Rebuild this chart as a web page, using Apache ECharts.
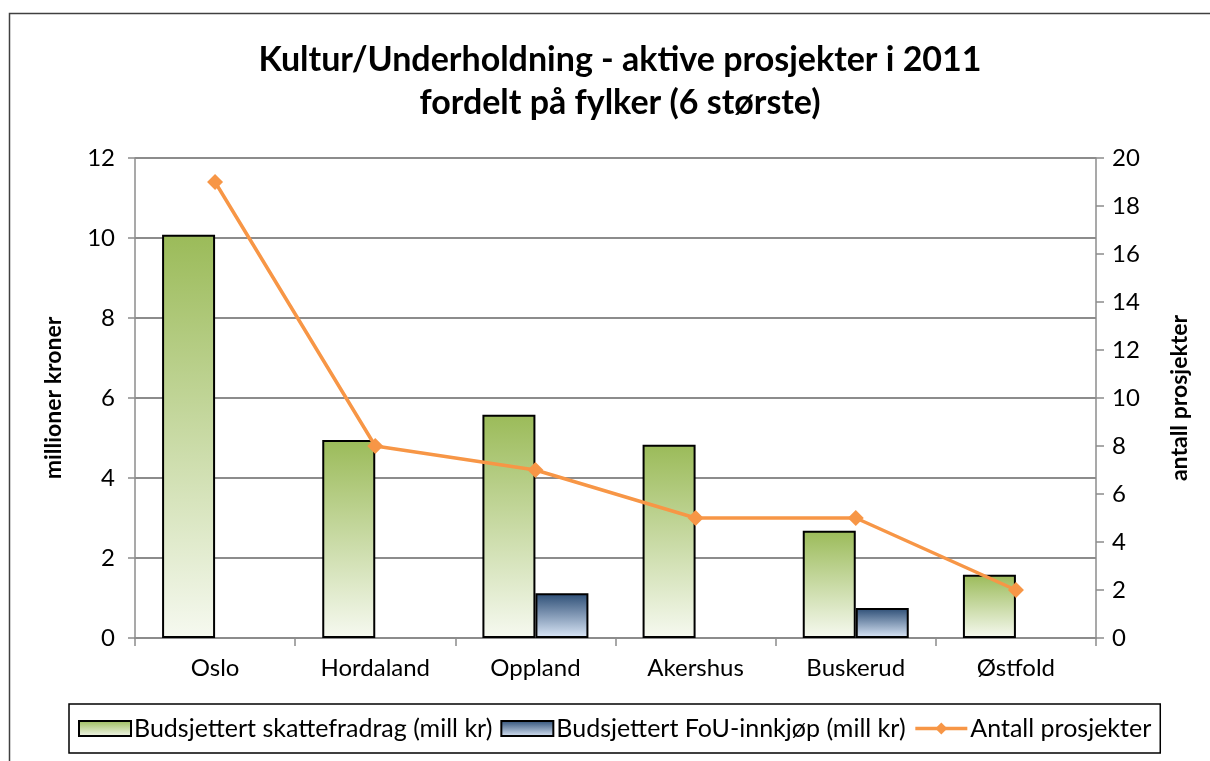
<!DOCTYPE html>
<html>
<head>
<meta charset="utf-8">
<script src="https://cdn.jsdelivr.net/npm/echarts@6/dist/echarts.min.js"></script>
<style>
  html, body { margin: 0; padding: 0; background: #fff; }
  #chart { width: 1210px; height: 761px; }
</style>
</head>
<body>
<div id="chart"></div>
<script>
// Data
const counties = ['Oslo', 'Hordaland', 'Oppland', 'Akershus', 'Buskerud', 'Østfold'];
const taxDeduction = [10.08, 4.95, 5.58, 4.83, 2.68, 1.58];   // mill kr
const rndPurchase = [null, null, 1.12, null, 0.75, null];      // mill kr
const projectCount = [19, 8, 7, 5, 5, 2];
const leftTicks = [0, 12, 2];   // min, max, interval
const rightTicks = [0, 20, 2];

const FONT = 'Lato, "Open Sans", sans-serif';
const ORANGE = '#f79646';

const chart = echarts.init(document.getElementById('chart'));

const greenFill = new echarts.graphic.LinearGradient(0, 0, 0, 1, [
    { offset: 0, color: '#9bbb59' },
    { offset: 1, color: '#f6f9f0' }
]);
const blueFill = new echarts.graphic.LinearGradient(0, 0, 0, 1, [
    { offset: 0, color: '#2c4d75' },
    { offset: 1, color: '#dce8f8' }
]);

const option = {
    backgroundColor: '#fff',
    animation: false,
    textStyle: { fontFamily: FONT },
    graphic: [{
        type: 'rect',
        shape: { x: 9.5, y: 13.5, width: 1240, height: 800 },
        style: { fill: 'none', stroke: '#404040', lineWidth: 1.5 },
        silent: true
    }],
    title: {
        text: 'Kultur/Underholdning - aktive prosjekter i 2011\nfordelt på fylker (6 største)',
        left: 615,
        textAlign: 'center',
        top: 34,
        textStyle: {
            fontFamily: FONT,
            fontSize: 34,
            fontWeight: 'bold',
            color: '#000',
            lineHeight: 43
        }
    },
    legend: {
        left: 69,
        top: 704,
        padding: [12, 9, 12, 9],
        itemGap: 8,
        itemWidth: 52,
        itemHeight: 15,
        borderColor: '#000',
        borderWidth: 1.5,
        textStyle: { fontFamily: FONT, fontSize: 25, color: '#000', padding: [0, 0, 0, -2] },
        data: [
            { name: 'Budsjettert skattefradrag (mill kr)', icon: 'rect' },
            { name: 'Budsjettert FoU-innkjøp (mill kr)', icon: 'rect' },
            { name: 'Antall prosjekter', lineStyle: { width: 3.5, color: ORANGE } }
        ]
    },
    grid: {
        left: 135,
        right: 114,
        top: 158,
        bottom: 123
    },
    xAxis: {
        type: 'category',
        data: counties,
        axisLine: { lineStyle: { color: '#8c8c8c', width: 2 } },
        axisTick: { show: true, length: 8, lineStyle: { color: '#8c8c8c', width: 1.5 } },
        axisLabel: { fontSize: 24, color: '#000', margin: 18, fontFamily: FONT }
    },
    yAxis: [{
        type: 'value',
        min: leftTicks[0],
        max: leftTicks[1],
        interval: leftTicks[2],
        name: 'millioner kroner',
        nameLocation: 'middle',
        nameGap: 70,
        nameTextStyle: { fontSize: 23, fontWeight: 'bold', color: '#000', fontFamily: FONT },
        axisLine: { show: true, lineStyle: { color: '#8c8c8c', width: 1.5 } },
        axisTick: { show: true, length: 7, lineStyle: { color: '#8c8c8c', width: 1.5 } },
        axisLabel: { fontSize: 24, color: '#000', margin: 20, fontFamily: FONT },
        splitLine: { lineStyle: { color: '#8c8c8c', width: 2 } }
    }, {
        type: 'value',
        position: 'right',
        min: rightTicks[0],
        max: rightTicks[1],
        interval: rightTicks[2],
        name: 'antall prosjekter',
        nameLocation: 'middle',
        nameGap: 72,
        nameRotate: 90,
        nameTextStyle: { fontSize: 23, fontWeight: 'bold', color: '#000', fontFamily: FONT },
        axisLine: { show: true, lineStyle: { color: '#8c8c8c', width: 1.5 } },
        axisTick: { show: true, length: 8, lineStyle: { color: '#8c8c8c', width: 1.5 } },
        axisLabel: { fontSize: 24, color: '#000', margin: 16, fontFamily: FONT },
        splitLine: { show: false }
    }],
    series: [{
        name: 'Budsjettert skattefradrag (mill kr)',
        type: 'bar',
        data: taxDeduction,
        barWidth: 53,
        barGap: '0%',
        itemStyle: { color: greenFill, borderColor: '#000', borderWidth: 2 }
    }, {
        name: 'Budsjettert FoU-innkjøp (mill kr)',
        type: 'bar',
        data: rndPurchase,
        barWidth: 53,
        barGap: '0%',
        itemStyle: { color: blueFill, borderColor: '#000', borderWidth: 2 }
    }, {
        name: 'Antall prosjekter',
        type: 'line',
        yAxisIndex: 1,
        data: projectCount,
        symbol: 'diamond',
        symbolSize: 16,
        lineStyle: { color: ORANGE, width: 3.5 },
        itemStyle: { color: ORANGE },
        z: 5
    }]
};

chart.setOption(option);
</script>
</body>
</html>
